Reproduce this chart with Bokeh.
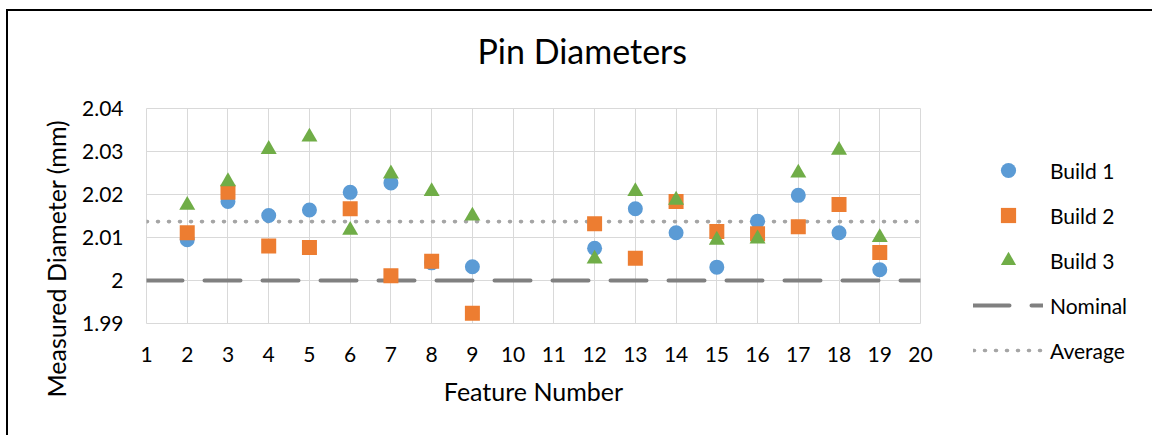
from bokeh.plotting import figure
from bokeh.models import (ColumnDataSource, FixedTicker, Legend, LegendItem, Title)
from bokeh.embed import file_html
from bokeh.resources import INLINE

# Feature numbers measured in each build (features 10 and 11 not measured)
features = [2, 3, 4, 5, 6, 7, 8, 9, 12, 13, 14, 15, 16, 17, 18, 19]

build1 = [2.0095, 2.0184, 2.0151, 2.0164, 2.0205, 2.0227, 2.0041, 2.0032,
          2.0075, 2.0167, 2.0111, 2.0031, 2.0138, 2.0198, 2.0111, 2.0025]
build2 = [2.0111, 2.0205, 2.0080, 2.0077, 2.0167, 2.0011, 2.0045, 1.9924,
          2.0132, 2.0052, 2.0184, 2.0114, 2.0109, 2.0125, 2.0177, 2.0065]
build3 = [2.0175, 2.0230, 2.0305, 2.0334, 2.0117, 2.0248, 2.0207, 2.0150,
          2.0050, 2.0207, 2.0187, 2.0094, 2.0097, 2.0250, 2.0303, 2.0100]

nominal = 2.000
average = 2.0137

x_ticks = list(range(1, 21))
y_ticks = [1.99, 2.00, 2.01, 2.02, 2.03, 2.04]
y_tick_labels = ["1.99", "2", "2.01", "2.02", "2.03", "2.04"]

FONT = "Lato"
BLUE, ORANGE, GREEN = "#5B9BD5", "#ED7D31", "#70AD47"
GRID = "#D9D9D9"

p = figure(frame_width=774, frame_height=215,
           x_range=(x_ticks[0], x_ticks[-1]),
           y_range=(y_ticks[0], y_ticks[-1]), output_backend="svg",
           toolbar_location=None, title=None,
           min_border_left=146, min_border_right=232,
           min_border_top=108, min_border_bottom=112)
# chart frame line along the top and left edge (white band hides the outer part)
p.styles = {"box-shadow": "inset 6px 9px 0px 0px #ffffff, "
                          "inset 8px 11px 0px 0px #000000",
            "max-width": "1152px", "max-height": "435px",
            "overflow": "hidden"}
p.background_fill_color = "white"
p.border_fill_color = None
p.outline_line_color = GRID
p.outline_line_width = 1

# axes
p.xaxis.ticker = FixedTicker(ticks=x_ticks)
p.yaxis.ticker = FixedTicker(ticks=y_ticks)
p.yaxis.major_label_overrides = {t: l for t, l in zip(y_ticks, y_tick_labels)}
for ax in (p.xaxis[0], p.yaxis[0]):
    ax.axis_line_color = None
    ax.major_tick_line_color = None
    ax.minor_tick_line_color = None
    ax.major_tick_out = 0
    ax.major_tick_in = 0
    ax.major_label_text_font = FONT
    ax.major_label_text_font_size = "21px"
    ax.major_label_text_color = "#000000"
p.yaxis.major_label_standoff = 23
p.xaxis.major_label_standoff = 23
p.xaxis.axis_label = "Feature Number"
p.xaxis.axis_label_text_font = FONT
p.xaxis.axis_label_text_font_size = "25px"
p.xaxis.axis_label_text_font_style = "normal"
p.xaxis.axis_label_text_color = "#000000"
p.xaxis.axis_label_standoff = 11

p.xgrid.grid_line_color = GRID
p.ygrid.grid_line_color = GRID
p.xgrid.grid_line_width = 1
p.ygrid.grid_line_width = 1

# reference lines
xl = [x_ticks[0], x_ticks[-1]]
r_nom = p.line(xl, [nominal, nominal], line_color="#808080", line_width=4,
               line_dash="36 22", line_cap="round")
r_avg = p.line(xl, [average, average], line_color="#A5A5A5", line_width=3.6,
               line_dash="1 10", line_cap="round")

# measured points
src = ColumnDataSource(dict(x=features, b1=build1, b2=build2, b3=build3))
r1 = p.scatter("x", "b1", source=src, marker="circle", size=15,
               fill_color=BLUE, line_color=None)
r2 = p.scatter("x", "b2", source=src, marker="square", size=15,
               fill_color=ORANGE, line_color=None)
r3 = p.scatter("x", "b3", source=src, marker="triangle", size=16,
               fill_color=GREEN, line_color=None)

legend = Legend(items=[
    LegendItem(label="Build 1", renderers=[r1]),
    LegendItem(label="Build 2", renderers=[r2]),
    LegendItem(label="Build 3", renderers=[r3]),
    LegendItem(label="Nominal", renderers=[r_nom]),
    LegendItem(label="Average", renderers=[r_avg]),
], location=(53, -46), orientation="vertical")
legend.padding = 0
legend.margin = 0
legend.spacing = 7
legend.glyph_width = 70
legend.glyph_height = 38
legend.label_height = 38
legend.label_standoff = 7
legend.label_text_font = FONT
legend.label_text_font_size = "21px"
legend.label_text_color = "#000000"
legend.border_line_color = None
legend.background_fill_alpha = 0
p.add_layout(legend, "right")

# gap between the plot area and the chart title, then the title itself
p.add_layout(Title(text=" ", text_font_size="1px", standoff=35), "above")
p.add_layout(Title(text="Pin Diameters", align="left", offset=331,
                   standoff=0, text_font=FONT, text_font_size="34px",
                   text_font_style="normal", text_color="#000000"), "above")
p.add_layout(Title(text="Measured Diameter (mm)", align="left", offset=-74,
                   standoff=18, text_font=FONT, text_font_size="25px",
                   text_font_style="normal", text_color="#000000"), "left")

open("out.html", "w").write(file_html(p, INLINE))
